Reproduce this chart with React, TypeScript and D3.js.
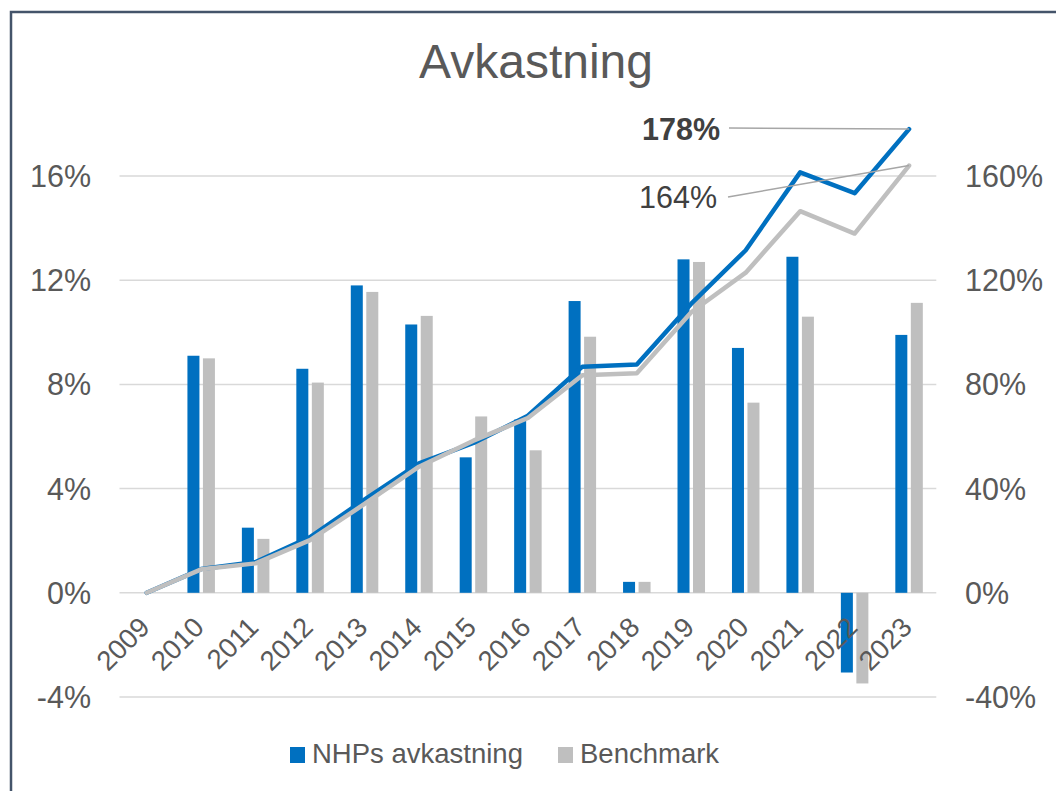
import * as d3 from 'd3';

const years = ['2009', '2010', '2011', '2012', '2013', '2014', '2015', '2016', '2017', '2018', '2019', '2020', '2021', '2022', '2023'];

// yearly return, % (left axis) - 2009 has no bar
const nhpYearly = [null, 9.1, 2.5, 8.6, 11.8, 10.3, 5.2, 6.65, 11.2, 0.42, 12.8, 9.4, 12.9, -3.06, 9.9];
const benchYearly = [null, 9.0, 2.07, 8.07, 11.55, 10.63, 6.77, 5.47, 9.83, 0.42, 12.7, 7.3, 10.6, -3.48, 11.13];

// cumulative return, % (right axis)
const nhpCumulative = [0, 9.1, 11.8, 21.4, 35.8, 49.7, 57.5, 68.0, 86.8, 87.6, 111.0, 131.5, 161.4, 153.4, 178];
const benchCumulative = [0, 9.0, 11.3, 20.2, 34.1, 48.4, 58.4, 67.1, 83.5, 84.3, 107.7, 122.9, 146.5, 137.9, 164];

const leftTicks = [-4, 0, 4, 8, 12, 16];
const rightTicks = [-40, 0, 40, 80, 120, 160];

const series = [
    { name: 'NHPs avkastning', color: '#0070c0' },
    { name: 'Benchmark', color: '#bfbfbf' },
];

const width = 1056;
const height = 791;
const font = '"Liberation Sans", Arial, sans-serif';
const textColor = '#595959';

export default function App() {
    const x = d3.scaleBand<string>().domain(years).range([119.5, 936.3]).paddingInner(0).paddingOuter(0);
    const yLeft = d3.scaleLinear().domain([-4, 16]).range([697, 176]);
    const yRight = d3.scaleLinear().domain([-40, 160]).range([697, 176]);
    const cx = (yr: string) => (x(yr) ?? 0) + x.bandwidth() / 2;

    const barW = 12;
    const gap = 3.5;

    const line = d3
        .line<number>()
        .x((_, i) => cx(years[i]))
        .y((d) => yRight(d));

    const last = years[years.length - 1];
    const nhpEnd = nhpCumulative[nhpCumulative.length - 1];
    const benchEnd = benchCumulative[benchCumulative.length - 1];

    return (
        <svg
            width={width}
            height={height}
            style={{ position: 'absolute', left: 0, top: 0, fontFamily: font }}
        >
            <rect x={0} y={0} width={width} height={height} fill="#fff" />
            <rect x={11} y={12} width={1200} height={1000} fill="none" stroke="#44546a" strokeWidth={2.5} />

            <text x={536} y={78} textAnchor="middle" fontSize={48} fill={textColor}>
                Avkastning
            </text>

            {/* gridlines */}
            {leftTicks.map((t) => (
                <line
                    key={t}
                    x1={119.5}
                    x2={936.3}
                    y1={yLeft(t)}
                    y2={yLeft(t)}
                    stroke="#d9d9d9"
                    strokeWidth={1.5}
                />
            ))}

            {/* left axis */}
            {leftTicks.map((t) => (
                <text key={t} x={91} y={yLeft(t) + 11} textAnchor="end" fontSize={30.5} fill={textColor}>
                    {t}%
                </text>
            ))}

            {/* right axis */}
            {rightTicks.map((t) => (
                <text key={t} x={965} y={yRight(t) + 11} textAnchor="start" fontSize={30.5} fill={textColor}>
                    {t}%
                </text>
            ))}

            {/* bars */}
            {years.map((yr, i) => {
                const a = nhpYearly[i];
                const b = benchYearly[i];
                const c = cx(yr);
                return (
                    <g key={yr}>
                        {a != null && (
                            <rect
                                x={c - gap / 2 - barW}
                                y={Math.min(yLeft(a), yLeft(0))}
                                width={barW}
                                height={Math.abs(yLeft(a) - yLeft(0))}
                                fill={series[0].color}
                            />
                        )}
                        {b != null && (
                            <rect
                                x={c + gap / 2}
                                y={Math.min(yLeft(b), yLeft(0))}
                                width={barW}
                                height={Math.abs(yLeft(b) - yLeft(0))}
                                fill={series[1].color}
                            />
                        )}
                    </g>
                );
            })}

            {/* x labels */}
            {years.map((yr) => (
                <text
                    key={yr}
                    transform={`translate(${cx(yr) + 4.5},${629}) rotate(-45)`}
                    textAnchor="end"
                    fontSize={27.5}
                    fill={textColor}
                >
                    {yr}
                </text>
            ))}

            {/* cumulative lines */}
            <path
                d={line(nhpCumulative) ?? ''}
                fill="none"
                stroke={series[0].color}
                strokeWidth={4.5}
                strokeLinejoin="round"
                strokeLinecap="round"
            />
            <path
                d={line(benchCumulative) ?? ''}
                fill="none"
                stroke={series[1].color}
                strokeWidth={4.5}
                strokeLinejoin="round"
                strokeLinecap="round"
            />

            {/* end labels */}
            <line x1={729} y1={128} x2={cx(last)} y2={yRight(nhpEnd)} stroke="#a6a6a6" strokeWidth={1.5} />
            <text x={720} y={140} textAnchor="end" fontSize={30.5} fontWeight="bold" fill="#404040">
                {nhpEnd}%
            </text>
            <line x1={728} y1={197} x2={cx(last)} y2={yRight(benchEnd)} stroke="#a6a6a6" strokeWidth={1.5} />
            <text x={717} y={208} textAnchor="end" fontSize={30.5} fill="#404040">
                {benchEnd}%
            </text>

            {/* legend */}
            {series.map((s, i) => {
                const lx = i === 0 ? 290 : 558;
                return (
                    <g key={s.name}>
                        <rect x={lx} y={747} width={15} height={16} fill={s.color} />
                        <text x={lx + 22} y={763} fontSize={27.5} fill={textColor}>
                            {s.name}
                        </text>
                    </g>
                );
            })}
        </svg>
    );
}
